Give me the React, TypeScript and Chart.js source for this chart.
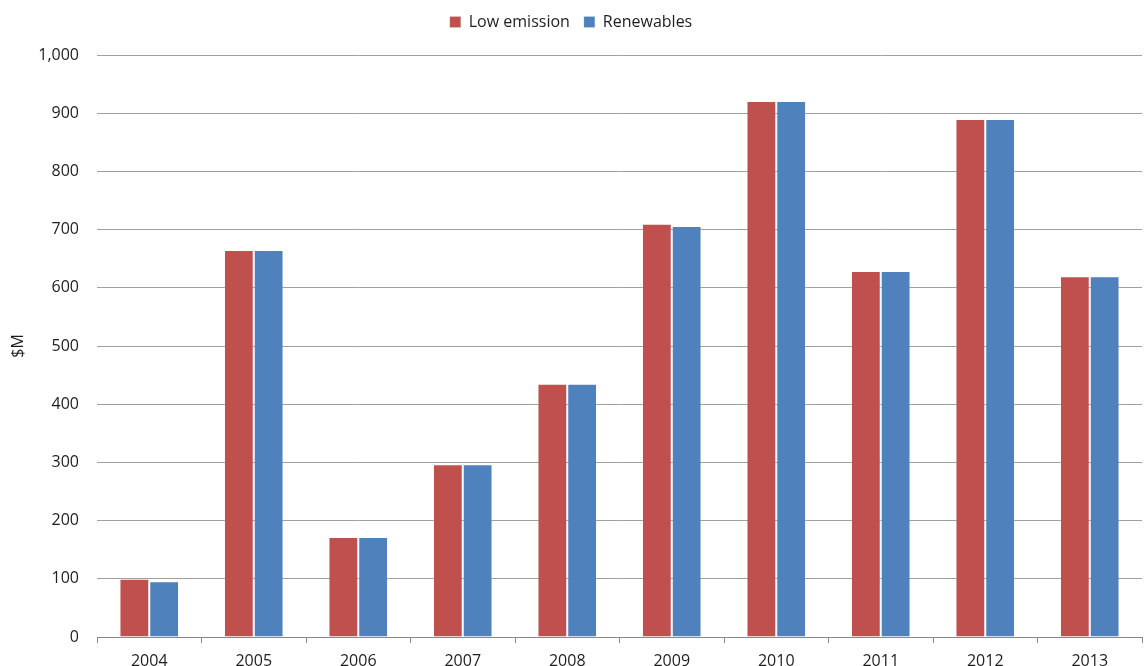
import React, { useEffect, useRef } from "react";
import { Chart, registerables } from "chart.js";

Chart.register(...registerables);

const years = ["2004", "2005", "2006", "2007", "2008", "2009", "2010", "2011", "2012", "2013"];
const lowEmission = [100, 665, 172, 297, 435, 710, 921, 629, 890, 620];
const renewables = [96, 665, 172, 297, 435, 706, 921, 629, 890, 620];
const yTicks = [0, 100, 200, 300, 400, 500, 600, 700, 800, 900, 1000];

const FONT = "'Open Sans', 'DejaVu Sans', sans-serif";
const TEXT = "#1e1e1e";

// Fixes the legend block height so the plot area starts at a set offset.
const legendHeight = {
  id: "legendHeight",
  afterInit(chart: any) {
    const legend = chart.legend;
    if (!legend) return;
    const fit = legend.fit;
    legend.fit = function () {
      fit.call(this);
      this.height = 55;
    };
  },
};

export default function App() {
  const ref = useRef<HTMLCanvasElement | null>(null);

  useEffect(() => {
    document.body.style.margin = "0";
    const canvas = ref.current;
    if (!canvas) return;
    const chart = new Chart(canvas, {
      type: "bar",
      data: {
        labels: years,
        datasets: [
          {
            label: "Low emission",
            data: lowEmission,
            backgroundColor: "#C0504D",
            borderColor: "rgba(255,255,255,0.18)",
            borderWidth: 1,
            categoryPercentage: 0.57,
            barPercentage: 1,
          },
          {
            label: "Renewables",
            data: renewables,
            backgroundColor: "#4F81BD",
            borderColor: "rgba(255,255,255,0.18)",
            borderWidth: 1,
            categoryPercentage: 0.57,
            barPercentage: 1,
          },
        ],
      },
      plugins: [legendHeight],
      options: {
        responsive: false,
        animation: false,
        layout: { padding: { left: 0, right: 2, top: 0, bottom: 0 } },
        plugins: {
          legend: {
            position: "top",
            labels: {
              boxWidth: 11,
              boxHeight: 11,
              padding: 14,
              color: TEXT,
              font: { family: FONT, size: 16 },
            },
          },
          tooltip: { enabled: false },
        },
        scales: {
          x: {
            afterFit: (scale: any) => {
              scale.height = 29;
            },
            grid: {
              drawOnChartArea: false,
              drawTicks: true,
              tickLength: 6,
              color: "#888",
              offset: true,
            },
            border: { display: true, color: "#888", width: 1 },
            ticks: {
              color: TEXT,
              font: { family: FONT, size: 16 },
              padding: 9,
            },
          },
          y: {
            min: 0,
            max: 1000,
            afterBuildTicks: (scale: any) => {
              scale.ticks = yTicks.map((v) => ({ value: v }));
            },
            afterFit: (scale: any) => {
              scale.width = 97;
            },
            grid: { color: "#a0a0a0", drawTicks: false, lineWidth: 1 },
            border: { display: false },
            ticks: {
              color: TEXT,
              padding: 18,
              font: { family: FONT, size: 16 },
              callback: (v: any) => Number(v).toLocaleString("en-US"),
            },
            title: {
              display: true,
              text: "$M",
              color: TEXT,
              font: { family: FONT, size: 16 },
              padding: { top: 9, bottom: 0 },
            },
          },
        },
      },
    });
    return () => chart.destroy();
  }, []);

  return <canvas ref={ref} width={1144} height={666} style={{ display: "block" }} />;
}
